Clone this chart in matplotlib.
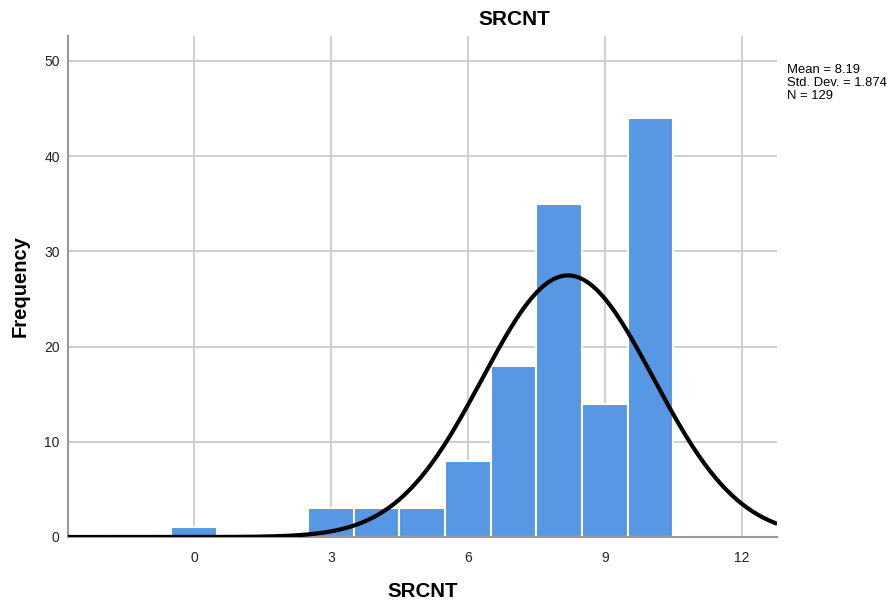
import numpy as np
from matplotlib import pyplot as plt

plt.rcParams["font.family"] = ["Liberation Sans", "DejaVu Sans"]

# Histogram bins (centres) and counts
bin_centers = [0, 3, 4, 5, 6, 7, 8, 9, 10]
counts = [1, 3, 3, 3, 8, 18, 35, 14, 44]
mean = 8.19
std_dev = 1.874
n_total = 129
x_ticks = [0, 3, 6, 9, 12]
y_ticks = [0, 10, 20, 30, 40, 50]

fig = plt.figure(figsize=(8.92, 6), dpi=100)
ax = fig.add_axes([0.0762, 0.105, 0.795, 0.835])

ax.bar(bin_centers, counts, width=1.0, color="#5797E3", edgecolor="white", linewidth=1.5, zorder=2)

# Fitted normal curve scaled to counts (bin width 1)
xs = np.linspace(-2.76, 12.77, 400)
ys = n_total / (std_dev * np.sqrt(2 * np.pi)) * np.exp(-0.5 * ((xs - mean) / std_dev) ** 2)
ax.plot(xs, ys, color="black", linewidth=3, zorder=3, solid_capstyle="butt")

ax.set_xlim(-2.76, 12.77)
ax.set_ylim(0, 52.6)
ax.set_xticks(x_ticks)
ax.set_yticks(y_ticks)
ax.grid(True, color="#CCCCCC", linewidth=1.3, zorder=0)
ax.set_axisbelow(True)
ax.tick_params(length=0, labelsize=10, pad=10, colors="#222222")
ax.tick_params(axis="y", pad=6)
for side in ["top", "right"]:
    ax.spines[side].set_visible(False)
for side in ["left", "bottom"]:
    ax.spines[side].set_color("#999999")
    ax.spines[side].set_linewidth(1.5)

fig.text(0.577, 0.968, "SRCNT", fontsize=15, fontweight="bold", ha="center", va="center")
ax.set_xlabel("SRCNT", fontsize=14.8, fontweight="bold", labelpad=12)
ax.set_ylabel("Frequency", fontsize=14.5, fontweight="bold", labelpad=10)

fig.text(0.882, 0.893, f"Mean = {mean}\nStd. Dev. = {std_dev}\nN = {n_total}",
         fontsize=9.4, va="top", ha="left", linespacing=1.12)

fig.savefig("out.png", dpi=100)
